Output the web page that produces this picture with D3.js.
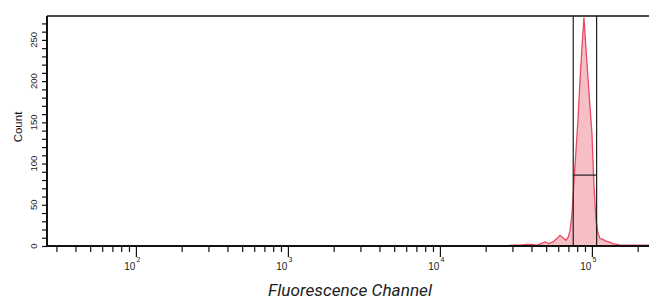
<!DOCTYPE html>
<html>
<head>
<meta charset="utf-8">
<script src="https://cdn.jsdelivr.net/npm/d3@7"></script>
<style>
    body { margin: 0; background: #fff; }
    #chart svg { display: block; }
</style>
</head>
<body>
<div id="chart"></div>
<script>
// Data
const channelValues = [
    26770, 29770, 33600, 37360, 40300, 43480, 46190, 49090, 52130, 55390,
    58850, 61600, 64460, 67450, 69520, 71690, 73890, 76160, 78500, 80910,
    83400, 85960, 88600, 91320, 94120, 97010, 100000, 103070, 106240, 109500,
    112860, 118120, 123610, 129330, 137400, 146000, 152900, 177800, 206900, 240800,
];
const counts = [
    0, 1, 1, 2, 2, 1, 3, 5, 3, 5,
    9, 13, 10, 7, 10, 18, 38, 78, 115, 152,
    200, 240, 277, 240, 205, 170, 137, 75, 32, 16,
    9, 8, 6, 5, 3, 2, 1, 1, 1, 1,
];
const gateRange = [75340, 107370];
const gateLevel = 86;
const xMajorTicks = [100, 1000, 10000, 100000];
const xMajorExponents = ['2', '3', '4', '5'];
const yLabelTicks = [0, 50, 100, 150, 200, 250];

const dataset = channelValues.map((v, i) => ({ x: v, y: counts[i] }));
const xAccessor = (d) => d.x;
const yAccessor = (d) => d.y;

// Dimensions
let dimensions = {
    width: 649,
    height: 299,
    margin: { top: 16, bottom: 53, left: 47, right: 0 },
};
dimensions.ctrHeight = dimensions.height - dimensions.margin.top - dimensions.margin.bottom;

const svg = d3.select('#chart')
    .append('svg')
    .attr('width', dimensions.width)
    .attr('height', dimensions.height);

const ctr = svg.append('g')
    .attr('transform', `translate(${dimensions.margin.left}, ${dimensions.margin.top})`);

// Scales
const decade = 152;
const xScale = d3.scaleLog()
    .domain([26, 262144])
    .range([0, decade * Math.log10(262144 / 26)]);

const yScale = d3.scaleLinear()
    .domain([0, 279])
    .range([dimensions.ctrHeight, 0]);

// Histogram
const area = d3.area()
    .x((d) => xScale(xAccessor(d)))
    .y0(yScale(0))
    .y1((d) => yScale(yAccessor(d)));

const line = d3.line()
    .x((d) => xScale(xAccessor(d)))
    .y((d) => yScale(yAccessor(d)));

ctr.append('path')
    .datum(dataset)
    .attr('d', area)
    .attr('fill', '#f6bfc6');

ctr.append('path')
    .datum(dataset)
    .attr('d', line)
    .attr('fill', 'none')
    .attr('stroke', '#e94a63')
    .attr('stroke-width', 1.3);

// Gate
const gx0 = xScale(gateRange[0]);
const gx1 = xScale(gateRange[1]);
const gate = ctr.append('g')
    .attr('stroke', '#1e1e1e')
    .attr('stroke-width', 1.2);
gate.append('line')
    .attr('x1', gx0).attr('x2', gx0)
    .attr('y1', 0).attr('y2', yScale(0));
gate.append('line')
    .attr('x1', gx1).attr('x2', gx1)
    .attr('y1', 0).attr('y2', yScale(0));
gate.append('line')
    .attr('x1', gx0).attr('x2', gx1)
    .attr('y1', yScale(gateLevel)).attr('y2', yScale(gateLevel));

// Top border
ctr.append('line')
    .attr('x1', 0).attr('x2', dimensions.width)
    .attr('y1', 0).attr('y2', 0)
    .attr('stroke', '#111')
    .attr('stroke-width', 1.6);

// Y axis
const yMinor = d3.range(0, 280, 10);
const yAxisGroup = ctr.append('g')
    .call(d3.axisLeft(yScale).tickValues(yMinor).tickSize(5).tickFormat(''))
    .call((g) => g.select('.domain').remove());
yAxisGroup.selectAll('line').attr('stroke', '#111').attr('stroke-width', 1.2);

yAxisGroup.selectAll('.ylabel')
    .data(yLabelTicks)
    .join('text')
    .attr('class', 'ylabel')
    .attr('transform', (d) => `translate(-10, ${yScale(d)}) rotate(-90)`)
    .attr('text-anchor', 'middle')
    .attr('font-family', 'Liberation Sans, Arial, sans-serif')
    .attr('font-size', 9.5)
    .attr('fill', '#222')
    .text((d) => d);

ctr.append('line')
    .attr('x1', 0).attr('x2', 0)
    .attr('y1', 0).attr('y2', yScale(0) + 1)
    .attr('stroke', '#111')
    .attr('stroke-width', 2);

ctr.append('text')
    .attr('transform', `translate(-25, ${dimensions.ctrHeight / 2 - 4}) rotate(-90)`)
    .attr('text-anchor', 'middle')
    .attr('font-family', 'Liberation Sans, Arial, sans-serif')
    .attr('font-size', 11.5)
    .attr('fill', '#111')
    .text('Count');

// X axis
const xMinor = [];
[10, 100, 1000, 10000, 100000].forEach((base) => {
    for (let k = 2; k <= 9; k++) {
        const v = base * k;
        if (v > 26 && v < 262144) xMinor.push(v);
    }
});

const xAxisGroup = ctr.append('g')
    .attr('transform', `translate(0, ${dimensions.ctrHeight})`);

xAxisGroup.append('g')
    .call(d3.axisBottom(xScale).tickValues(xMinor).tickSize(6).tickFormat(''))
    .call((g) => g.select('.domain').remove())
    .selectAll('line').attr('stroke', '#111').attr('stroke-width', 1.2);

xAxisGroup.append('g')
    .call(d3.axisBottom(xScale).tickValues(xMajorTicks).tickSize(11).tickFormat(''))
    .call((g) => g.select('.domain').remove())
    .selectAll('line').attr('stroke', '#111').attr('stroke-width', 1.2);

xAxisGroup.append('line')
    .attr('x1', 0).attr('x2', dimensions.width)
    .attr('stroke', '#111')
    .attr('stroke-width', 2);

const xLabels = xAxisGroup.selectAll('.xlabel')
    .data(xMajorTicks)
    .join('g')
    .attr('class', 'xlabel')
    .attr('transform', (d) => `translate(${xScale(d)}, 0)`);

xLabels.append('text')
    .attr('x', -0.5)
    .attr('y', 24)
    .attr('text-anchor', 'end')
    .attr('font-family', 'Liberation Sans, Arial, sans-serif')
    .attr('font-size', 10)
    .attr('fill', '#222')
    .text('10');

xLabels.append('text')
    .attr('x', 0.5)
    .attr('y', 16)
    .attr('font-family', 'Liberation Sans, Arial, sans-serif')
    .attr('font-size', 7)
    .attr('fill', '#222')
    .text((d, i) => xMajorExponents[i]);

svg.append('text')
    .attr('x', 350)
    .attr('y', 296)
    .attr('text-anchor', 'middle')
    .attr('font-family', 'Roboto, sans-serif')
    .attr('font-style', 'italic')
    .attr('font-size', 17)
    .attr('textLength', 164)
    .attr('lengthAdjust', 'spacingAndGlyphs')
    .attr('fill', '#222')
    .text('Fluorescence Channel');
</script>
</body>
</html>
